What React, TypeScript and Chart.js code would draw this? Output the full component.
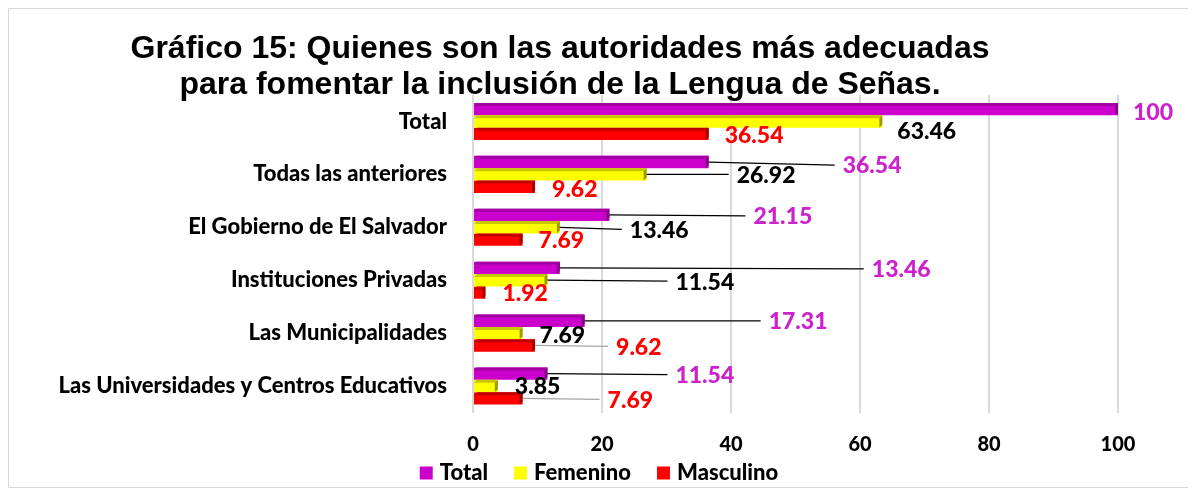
import React, { useEffect, useRef } from "react";
import { Chart, registerables } from "chart.js";

Chart.register(...registerables);

const categories = [
  "Total",
  "Todas las anteriores",
  "El Gobierno de El Salvador",
  "Instituciones Privadas",
  "Las Municipalidades",
  "Las Universidades y Centros Educativos",
];
const totalValues = [100, 36.54, 21.15, 13.46, 17.31, 11.54];
const femeninoValues = [63.46, 26.92, 13.46, 11.54, 7.69, 3.85];
const masculinoValues = [36.54, 9.62, 7.69, 1.92, 9.62, 7.69];
const seriesNames = ["Total", "Femenino", "Masculino"];
const xTickValues = [0, 20, 40, 60, 80, 100];
const titleLines = [
  "Gráfico 15: Quienes son las autoridades más adecuadas",
  "para fomentar la inclusión de la Lengua de Señas.",
];

// styles (colors, label placement offsets in px relative to bar end)
const fillColors = ["#CC00CC", "#FFFF00", "#FF0000"];
const topColors = ["#A000A0", "#C8C800", "#C00000"];
const sideColors = ["#880088", "#9A9A00", "#A00000"];
const labelColors = ["#CC22CC", "#000000", "#FF0000"];
const lineColors = ["#000000", "#000000", "#A6A6A6"];
const labelOffsets = [
  [[15, 3], [134, 4], [144, 2], [312, 2], [184, 1], [128, 2]],
  [[15, 10], [90, 1], [70, 3], [128, 2], [17, 2], [17, 1]],
  [[16, 2], [17, 3], [16, 1], [17, 1], [81, 2], [85, 2]],
];
const labelLines = [
  [false, true, true, true, true, true],
  [false, true, true, true, false, false],
  [false, false, false, false, true, true],
];

const FONT_FAMILY = "Lato, 'Open Sans', sans-serif";
const FONT_WEIGHT = "900";
const LABEL_FONT = `${FONT_WEIGHT} 23px ${FONT_FAMILY}`;
const LEGEND_FONT = `${FONT_WEIGHT} 22px ${FONT_FAMILY}`;

const bevelPlugin = {
  id: "bevel3d",
  afterDatasetsDraw(chart: any) {
    const ctx = chart.ctx;
    const d = 3;
    chart.data.datasets.forEach((_ds: any, di: number) => {
      const meta = chart.getDatasetMeta(di);
      meta.data.forEach((bar: any) => {
        const h = bar.height;
        const x0 = bar.base;
        const x1 = bar.x;
        const yt = bar.y - h / 2;
        const yb = bar.y + h / 2;
        ctx.save();
        ctx.fillStyle = topColors[di];
        ctx.beginPath();
        ctx.moveTo(x0, yt + d);
        ctx.lineTo(x0 + d, yt);
        ctx.lineTo(x1, yt);
        ctx.lineTo(x1 - d, yt + d);
        ctx.closePath();
        ctx.fill();
        ctx.fillStyle = sideColors[di];
        ctx.beginPath();
        ctx.moveTo(x1 - d, yt + d);
        ctx.lineTo(x1, yt);
        ctx.lineTo(x1, yb - d);
        ctx.lineTo(x1 - d, yb);
        ctx.closePath();
        ctx.fill();
        ctx.restore();
      });
    });
  },
};

const labelPlugin = {
  id: "valueLabels",
  afterDatasetsDraw(chart: any) {
    const ctx = chart.ctx;
    chart.data.datasets.forEach((ds: any, di: number) => {
      const meta = chart.getDatasetMeta(di);
      meta.data.forEach((bar: any, i: number) => {
        const endX = bar.x;
        const cy = bar.y;
        const [dx, dy] = labelOffsets[di][i];
        const tx = endX + dx;
        const ty = cy + dy;
        ctx.save();
        if (labelLines[di][i]) {
          ctx.strokeStyle = lineColors[di];
          ctx.lineWidth = 1.2;
          ctx.beginPath();
          ctx.moveTo(endX, cy);
          ctx.lineTo(tx - 8, ty - 1);
          ctx.stroke();
        }
        ctx.font = LABEL_FONT;
        ctx.fillStyle = labelColors[di];
        ctx.textAlign = "left";
        ctx.textBaseline = "middle";
        ctx.fillText(String(ds.data[i]), tx, ty);
        ctx.restore();
      });
    });
  },
};

const titleAndLegendPlugin = {
  id: "customTitleLegend",
  afterDraw(chart: any) {
    const ctx = chart.ctx;
    ctx.save();
    ctx.font = "bold 32px 'Liberation Sans', Arial, sans-serif";
    ctx.fillStyle = "#000000";
    ctx.textAlign = "center";
    ctx.textBaseline = "middle";
    ctx.fillText(titleLines[0], 551, 40);
    ctx.fillText(titleLines[1], 551, 76);

    // legend built from the datasets
    const box = 13;
    const gapBoxText = 7;
    const gapItems = 26;
    ctx.font = LEGEND_FONT;
    const items = chart.data.datasets.map((ds: any) => ({
      text: ds.label,
      color: ds.backgroundColor,
      w: box + gapBoxText + ctx.measureText(ds.label).width,
    }));
    const totalW = items.reduce((a: number, it: any) => a + it.w, 0) + gapItems * (items.length - 1);
    let x = chart.width / 2 - totalW / 2;
    const cy = 464;
    ctx.textAlign = "left";
    items.forEach((it: any) => {
      ctx.fillStyle = it.color;
      ctx.fillRect(x, cy - box / 2, box, box);
      ctx.fillStyle = "#000000";
      ctx.fillText(it.text, x + box + gapBoxText, cy);
      x += it.w + gapItems;
    });
    ctx.restore();
  },
};

export default function App() {
  const canvasRef = useRef<HTMLCanvasElement | null>(null);

  useEffect(() => {
    if (!canvasRef.current) return;
    const chart = new Chart(canvasRef.current, {
      type: "bar",
      data: {
        labels: categories,
        datasets: [totalValues, femeninoValues, masculinoValues].map((vals, i) => ({
          label: seriesNames[i],
          data: vals,
          backgroundColor: fillColors[i],
          borderWidth: 0,
          categoryPercentage: 0.7,
          barPercentage: 1.0,
        })),
      },
      options: {
        indexAxis: "y",
        animation: false,
        responsive: true,
        maintainAspectRatio: false,
        layout: { padding: { top: 86, right: 71, left: 0, bottom: 34.5 } },
        plugins: {
          title: { display: false },
          tooltip: { enabled: false },
          legend: { display: false },
        },
        scales: {
          x: {
            min: 0,
            max: 100,
            afterBuildTicks: (s: any) => {
              s.ticks = xTickValues.map((v) => ({ value: v }));
            },
            afterFit: (s: any) => {
              s.height = 40;
            },
            grid: { color: "#D9D9D9", lineWidth: 2, drawTicks: false },
            border: { display: false },
            ticks: {
              padding: 20,
              color: "#000000",
              font: { family: FONT_FAMILY, size: 20, weight: FONT_WEIGHT },
            },
          },
          y: {
            afterFit: (s: any) => {
              s.width = 464;
            },
            grid: { display: false, drawTicks: false },
            border: { display: false },
            ticks: {
              padding: 26,
              color: "#000000",
              font: { family: FONT_FAMILY, size: 22, weight: FONT_WEIGHT },
            },
          },
        },
      },
      plugins: [bevelPlugin, labelPlugin, titleAndLegendPlugin],
    } as any);
    return () => chart.destroy();
  }, []);

  return (
    <div style={{ width: 1180, height: 478, border: "1px solid #D9D9D9", background: "#fff" }}>
      <div style={{ position: "relative", width: 1180, height: 478 }}>
        <canvas ref={canvasRef} />
      </div>
    </div>
  );
}
